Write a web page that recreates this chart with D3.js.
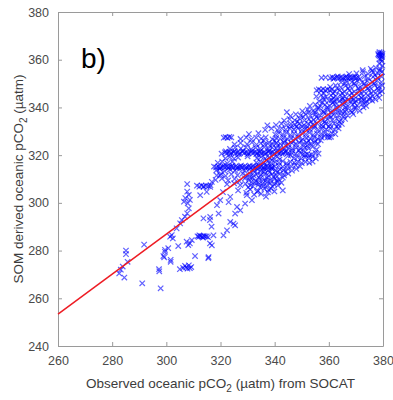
<!DOCTYPE html>
<html>
<head>
<meta charset="utf-8">
<script src="https://cdn.jsdelivr.net/npm/d3@7"></script>
<style>
  body { margin: 0; background: #fff; }
  text { font-family: "Liberation Sans", Arial, sans-serif; }
</style>
</head>
<body>
<div id="chart"></div>
<script>
// axis ticks
const xTicks = [260, 280, 300, 320, 340, 360, 380];
const yTicks = [240, 260, 280, 300, 320, 340, 360, 380];

// fitted line (end points)
const fitX = [260, 380];
const fitY = [253.4, 354];

// sparse points, lower left
const sparsePts = [
  [282.6,270.4],[283.2,272],[284.5,268.7],[285.1,280],[285.1,278.5],[285.7,275.3],[283.9,273.3],[291.8,282.5],
  [291.1,266.3],[297.3,272.2],[297.4,271.3],[297.9,264.2],[298.9,277.7],[299.5,279.5],[299.2,277.2],[300.7,281],
  [301.6,275.3],[301.6,276.1],[305,272.2],[306.2,272.7],[306.9,273.6],[307.3,273],[307.8,272.4],[308.3,273.8],
  [308.7,272.6],[309.2,273.1],[310.6,277.7],[315.5,276.8],[304.4,281.9],[307.5,283.7],[308.1,282.3],[308.7,283],
  [309.4,284.4],[302,286.5],[301.4,285.8],[302.4,285.1],[299.5,280.3],[303.8,289.3],[305.1,291.4],[305.7,292.8],
  [306.9,294.2],[307.7,295.6],[308.3,297.7],[307.9,299.8],[308.7,301.2],[308.3,303.3],[307.7,304.7],[307.7,307.9],
  [306.5,300.5],[307,302],
  [311.5,286],[312,285.7],[312.6,286.1],[313.2,285.8],[313.8,286.2],[314.3,285.9],[314.9,286],[315.4,285.6],
  [312.2,286.4],[313.5,285.4],[313.7,293.5],[316.1,292.8],[316.7,290],[316.1,283],[317.4,286.4],[316.8,282.2],
  [315.6,277.3],[321.1,286.4],[319.3,295.5],[316.2,294.1],[318.7,299],[319.9,301.1],[323,300.3],[323.6,292],
  [325.4,295.5],[322.4,288.5],[324.8,291.3],[327.3,296.9],[329.1,299.7],[331.6,301.1],[326.1,298.3],[323.6,302.5],
  [329.7,303.2],[325.4,290.6],[312.5,303.2],[313.7,306.7],[316.8,308.8],[314.9,304.6],[316.2,306.7],[319.9,311.6],
  [320.9,304.5],[326.5,305.2]
];

// dense cloud along the line, read row by row
const densePts = [
  [329.5,304.2],[331,305.6],[332.4,303.5],[333.8,305],[335,303.8],[336.2,305.9],[337.5,304.4],[338.6,306.1],[339.9,304.8],[334.6,306.6],[343,305.2],[336.8,302.6],
  [330.2,306.5],[332,306.9],[333.5,304.6],[335.8,307],[337.8,305.4],[339.2,306.8],[341.2,307.3],
  [311.3,307.2],[312.2,306.8],[313,307.3],[313.8,306.9],[314.6,307.2],[315.5,307],[316.3,307.4],[322.4,307.8],[325,308.2],[327.3,307.4],[329.2,308],[331,307.3],[332.6,308.4],[334,307.6],[335.5,308.1],[337,307.2],[338.4,308.3],[339.8,307.7],[341,308.6],
  [331.4,308.8],[333.9,308.5],[336.6,309.2],[337.5,308.9],[342.5,308.4],[340.8,309.4],
  [318.2,309.6],[320.5,310.2],[322.8,309.4],[325.2,310],[327,309.1],[329,310.3],[330.4,309.5],[331.8,310.4],[333.1,309.3],[334.5,310.1],[335.9,309.6],[337.2,310.5],[338.7,309.4],[340.1,310.2],[341.6,309.8],[343,310.6],
  [330.8,310.8],[334.2,310.7],[339.6,311],
  [318.6,311.5],[320.2,312.2],[321.9,311.3],[324,312],[326.3,311.6],[328.2,312.3],[329.6,311.2],[331,312],[332.3,311.4],[333.7,312.4],[335,311.7],[336.4,312.2],[337.8,311.3],[339.1,312.1],[340.5,311.6],[342,312.4],[343.5,311.5],[345,312.3],
  [332.6,312.9],[336,313],[338.1,312.8],[341,312.9],[344,313],
  [318.4,313.6],[319.8,314.2],[321.6,313.3],[323.5,314],[325.4,313.5],[327.1,314.3],[328.9,313.4],[330.6,314.1],[332,313.6],[333.4,314.4],[334.8,313.2],[336.2,314],[337.6,313.5],[339,314.3],[340.4,313.4],[341.9,314.1],[343.3,313.6],[344.8,314.4],[346.4,313.5],[348,314.2],
  [317.6,315.2],[318.4,314.9],[319.2,315.3],[320,314.8],[320.8,315.2],[321.6,314.9],[322.4,315.3],[323.2,315],[324,315.2],[324.8,314.8],[325.6,315.3],[326.4,315],[327.2,315.2],[328,314.9],[328.8,315.3],[329.6,315],[330.4,315.2],[331.2,314.8],[332,315.3],[332.8,315],[333.6,315.2],[334.4,314.9],[335.2,315.4],[336,315],[336.8,315.2],[337.6,314.9],[338.4,315.3],[339.2,315],[340,315.2],[341.5,315.6],[343,315.1],[344.6,315.7],[346.2,315.2],[347.8,315.8],[349.4,315.3],
  [319.6,314.5],[321.2,315.6],[322.8,314.6],[324.4,315.6],[326,314.6],[327.6,315.6],[329.2,314.6],[330.8,315.6],[332.4,314.6],[334,315.6],[335.6,314.6],[337.2,315.6],[338.8,314.6],
  [319,316.8],[320.6,317.3],[322.5,316.6],[324.4,317.2],[333.2,316.9],[334.6,317.4],[336,316.7],[337.4,317.3],[338.8,316.6],[340.2,317.1],[341.6,316.8],[343,317.5],[344.4,316.6],[345.8,317.2],[347.2,316.9],[348.6,317.4],[350,316.7],[351.4,317.2],[352.8,316.8],[354,317.3],
  [321.8,318.6],[323.4,319.2],[325,318.5],[333.5,318.8],[335,319.3],[336.5,318.5],[338,319.1],[339.5,318.7],[341,319.4],[347,318.6],[348.4,319.2],[349.8,318.5],[351.2,319.1],[352.6,318.7],[354,319.3],[355.2,318.6],
  [337,318],[339,317.9],[341.8,318.2],[326.5,319],[330,319.5],
  [320.4,320.6],[321.6,321.2],[322.4,320.8],[323.2,321.4],[324,320.9],[324.8,321.3],[325.6,320.7],[326.4,321.2],[327.2,320.8],[328,321.4],[328.8,320.9],[329.6,321.3],[330.4,320.7],[331.2,321.2],[332,320.8],[332.8,321.4],[333.6,320.9],[334.4,321.3],[335.2,320.7],[336,321.2],[336.8,320.8],[337.6,321.4],[338.4,320.9],[339.2,321.3],[340,320.7],[340.8,321.2],[341.6,320.8],[342.4,321.4],[343.2,320.9],[344,321.3],[344.8,320.7],[346.3,321],[347.8,320.5],[349.3,321.1],[350.4,320.3],[351.2,320.1],[352,320.4],[352.8,319.9],[353.6,320.3],[355,321],[356.2,320.6],
  [322,321.6],[323.6,320.4],[325.2,321.7],[326.8,320.4],[328.4,321.7],[330,320.4],[331.6,321.7],[333.2,320.4],[334.8,321.7],[336.4,320.4],[338,321.7],[339.6,320.4],[341.2,321.7],[342.8,320.4],[344.4,321.7],[345,319.8],[346,320],[334,320],
  [323.5,322.6],[325.4,323.2],[327.5,322.8],[329.4,323.3],[331.3,322.5],[333,323.1],[334.6,322.7],[336.1,323.4],[337.6,322.6],[339.1,323.2],[340.6,322.8],[342.1,323.4],[343.6,322.5],[345.1,323.1],[346.6,322.7],[348.1,323.3],[349.6,322.6],[351.1,323.2],[352.5,322.8],
  [346.5,322],[348.8,322],[350.8,321.9],[352,324],[354,323.5],[355.5,322.4],[338.2,324],[341,323.9],[344,324],
  [325.2,324.5],[327.4,325.1],[329.8,324.6],[331.6,325.3],[333.3,324.4],[334.9,325],[336.4,324.6],[337.9,325.3],[339.3,324.5],[340.7,325.1],[342.1,324.7],[343.5,325.4],[344.9,324.5],[346.3,325.1],[347.7,324.6],[349.1,325.3],[350.5,324.5],[351.9,325.2],[353.3,324.7],[354.7,325.3],[356,324.6],
  [347,325.8],[349.8,326],[352.5,326],[355,325.9],[357,326.2],[343.8,326],[340,326],[336,326],
  [321.2,327.3],[321.9,327.6],[322.6,327.2],[323.3,327.7],[324,327.4],[327.4,326.8],[329.5,327.4],[331.4,326.6],[333.2,327.3],[335,326.9],[336.7,327.5],[339.2,326.6],[340.6,327.2],[342,326.8],[343.4,327.4],[344.8,326.6],[346.2,327.2],[347.6,326.8],[349,327.5],[350.4,326.6],[351.8,327.2],[353.2,326.8],[354.6,327.4],[356,326.7],[357.4,327.3],[359.6,327.6],[360.2,327.4],[360.8,327.7],
  [330.5,328.8],[334,329.2],[337.3,332.5],[340.2,328.6],[341.6,329.3],[343,328.7],[344.4,329.4],[345.8,328.5],[347.2,329.1],[348.6,328.6],[350,329.3],[351.4,328.7],[352.8,329.4],[354.2,328.5],[355.6,329.1],[357,328.7],[358.4,329.3],[359.8,328.6],[361.2,329.2],[362.4,328.8],[358.4,328],
  [336.5,330.6],[338.8,331.2],[341,330.5],[342.6,331.3],[344.1,330.7],[345.6,331.2],[347.1,330.6],[348.6,331.3],[350.1,330.5],[351.6,331.1],[353.1,330.7],[354.6,331.4],[356.1,330.6],[357.6,331.2],[359.1,330.8],[360.6,331.3],[362.1,330.6],[363.6,331.2],
  [346,332],[348,332],[350,332],[352,331.8],[354.8,332.2],[357.8,332],[360,332],[362.8,332],
  [340.5,332.6],[342.5,333.2],[344.3,332.5],[346,333.1],[347.6,332.7],[349.2,333.3],[350.8,332.6],[352.4,333.2],[354,332.8],[355.6,333.4],[357.2,332.6],[358.8,333.2],[360.4,332.7],[362,333.3],[363.6,332.6],[364.8,333.1],
  [348.4,334],[353.4,334],[358.6,334],[363.8,334],
  [343.5,334.5],[345.5,335.1],[347.4,334.6],[349.2,335.3],[351,334.5],[352.7,335.1],[354.4,334.7],[356.1,335.4],[357.8,334.5],[359.5,335.1],[361.2,334.7],[362.9,335.3],[364.5,334.6],[366,335.2],
  [350.6,336],[355.4,336],[360.8,336],[365.4,336.2],
  [345.8,336.4],[347.8,337.1],[349.6,336.6],[351.4,337.2],[353.2,336.5],[355,337.1],[356.8,336.7],[358.5,337.3],[360.2,336.5],[361.9,337.1],[363.6,336.7],[365.3,337.3],[367,336.6],[369,337.2],
  [352.6,338],[355,338],[358.2,338],[360.8,338],[363.4,338],[366,338.2],[368.6,338],
  [344.5,338],[350.2,338.5],[352.2,339.1],[354.2,338.6],[356,339.3],[357.8,338.5],[359.5,339.1],[361.2,338.6],[362.9,339.2],[364.6,338.5],[366.3,339.1],[368,338.7],[369.7,339.3],[371.4,338.6],
  [356,340],[359.4,340],[362.8,340],[366.2,340],[369.6,340],[372.8,340],
  [353,340.6],[355,341.2],[356.9,340.5],[358.6,341.1],[360.3,340.7],[362,341.3],[363.7,340.5],[365.4,341.1],[367.1,340.6],[368.8,341.2],[370.5,340.7],[372.2,341.3],[373.8,340.6],
  [357.6,342],[361.5,342],[365.5,342],[369.5,342],[373.5,342],
  [356.4,342.6],[358.2,343.2],[360,342.8],[361,343.1],[362,342.6],[363,343.2],[364,342.7],[365,343.3],[366,342.8],[367,343.1],[368,342.6],[369,343.2],[370,342.7],[371,343.3],[372,342.8],[373,343.1],[374,342.6],[375,343.2],[376,342.8],[377.2,343.4],
  [358,344],[361.6,344],[365,344],[368.5,344],[372,344],[375.2,344],[378.6,344],
  [355.4,344.6],[357.2,345.2],[359,344.5],[360.8,345.1],[362.5,344.7],[364.2,345.3],[365.9,344.6],[367.6,345.2],[369.3,344.7],[371,345.3],[372.7,344.6],[374.4,345.2],[376.1,344.7],[377.8,345.3],
  [358.2,346],[361.6,346],[365,346],[368.5,346],[372,346],[375.6,346],[378.8,346],
  [355.5,347.2],[356.3,347.6],[357.1,347.1],[357.9,347.7],[358.7,347.2],[359.5,347.6],[360.3,347.1],[361.1,347.5],[362.3,346.6],[364,347.2],[365.8,346.5],[367.6,347.1],[369.4,346.6],[371.2,347.3],[373,346.6],[374.8,347.2],[376.6,346.7],[378.4,347.3],[379.6,346.8],
  [363,348],[367,348],[371,348],[374.5,348],[378,348],
  [360.5,348.6],[362.5,349.2],[364.4,348.5],[366.2,349.1],[368,348.7],[369.8,349.3],[371.6,348.5],[373.4,349.1],[375.2,348.6],[377,349.3],[378.6,348.7],[379.7,349.2],
  [366,350],[369.5,350],[373.2,350],[376.8,350],
  [364.5,350.5],[366.5,351.1],[368.5,350.6],[370.4,351.2],[372.3,350.5],[374.2,351.1],[376,350.7],[377.8,351.3],[379.4,350.6],
  [357.3,352.4],[358.8,352.6],[360.5,352.3],[361.3,352.7],[362.1,352.4],[362.9,352.6],[363.7,352.3],[364.5,352.7],[365.3,352.4],[366.1,352.6],[366.9,352.3],[367.7,352.7],[368.5,352.4],[369.3,352.6],[370.1,352.3],[370.9,352.6],[374.5,352.2],[376.3,352.8],[378,352.4],[379.5,352.9],
  [361.7,352],[363.3,353],[364.9,352],[366.5,353],[368.1,352],[369.7,353],[371.5,352],[373.2,353],[377,353.5],
  [370.2,354.3],[372.6,354.8],[374.5,354.1],[376.4,354.7],[378.2,354.2],[379.6,354.9],[375.5,356.2],[377.4,356.6],[379,356.1],[379.8,357.5],[372.5,355.6],[367.5,354],[378.8,355.5],[376,355.4],
  [378.6,358.4],[379.5,359.3],[378.8,360.4],[379.6,361.2],[378.4,361.8],[379.1,362.1],[379.8,362.4],[378.6,362.7],[379.4,363],[378.9,361.5],
  [378.2,362.3],[379.7,361.7],[378.7,363.2],[379.3,360.1]
];

const points = sparsePts.concat(densePts);

const W = 393, H = 400;
const margin = { top: 12, right: 10, bottom: 54, left: 58 };
const width = W - margin.left - margin.right;
const height = H - margin.top - margin.bottom;

const svg = d3.select("#chart").append("svg")
  .attr("width", W)
  .attr("height", H);

const g = svg.append("g")
  .attr("transform", `translate(${margin.left},${margin.top})`);

const x = d3.scaleLinear().domain([260, 380]).range([0, width]);
const y = d3.scaleLinear().domain([240, 380]).range([height, 0]);

const axisColor = "#9a9a9a";
const labelColor = "#4a4a4a";

// axes with inward ticks on all four sides (matlab box)
const xAxis = g.append("g")
  .attr("transform", `translate(0,${height})`)
  .call(d3.axisBottom(x).tickValues(xTicks).tickSize(-4).tickPadding(10).tickSizeOuter(0));
const xTop = g.append("g")
  .call(d3.axisTop(x).tickValues(xTicks).tickSize(-4).tickFormat("").tickSizeOuter(0));
const yAxis = g.append("g")
  .call(d3.axisLeft(y).tickValues(yTicks).tickSize(-4).tickPadding(9).tickSizeOuter(0));
const yRight = g.append("g")
  .attr("transform", `translate(${width},0)`)
  .call(d3.axisRight(y).tickValues(yTicks).tickSize(-4).tickFormat("").tickSizeOuter(0));

[xAxis, xTop, yAxis, yRight].forEach(a => {
  a.selectAll("line").attr("stroke", axisColor);
  a.select(".domain").attr("stroke", axisColor);
  a.selectAll("text")
    .attr("fill", labelColor)
    .attr("font-size", 12.5)
    .attr("font-family", "'Liberation Sans', Arial, sans-serif");
});

// scatter 'x' markers
const s = 2.7;
g.append("g")
  .selectAll("path")
  .data(points)
  .join("path")
  .attr("d", d => {
    const px = x(d[0]), py = y(d[1]);
    return `M${px - s},${py - s}L${px + s},${py + s}M${px - s},${py + s}L${px + s},${py - s}`;
  })
  .attr("stroke", "#0000ff")
  .attr("stroke-opacity", 0.62)
  .attr("stroke-width", 1.2)
  .attr("fill", "none");

// fitted line
g.append("line")
  .attr("x1", x(fitX[0])).attr("y1", y(fitY[0]))
  .attr("x2", x(fitX[1])).attr("y2", y(fitY[1]))
  .attr("stroke", "#ee1c24")
  .attr("stroke-width", 1.5);

// panel label
svg.append("text")
  .attr("x", 81)
  .attr("y", 68)
  .attr("font-family", "Lato, 'Open Sans', sans-serif")
  .attr("font-size", 28)
  .attr("fill", "#000")
  .text("b)");

// axis titles
const xt = svg.append("text")
  .attr("x", margin.left + width / 2)
  .attr("y", 388)
  .attr("text-anchor", "middle")
  .attr("font-size", 13.5)
  .attr("fill", "#3c3c3c");
xt.append("tspan").text("Observed oceanic pCO");
xt.append("tspan").attr("dy", 4).attr("font-size", 10).text("2");
xt.append("tspan").attr("dy", -4).text(" (µatm) from SOCAT");

const yt = svg.append("text")
  .attr("transform", `translate(23,${margin.top + height / 2}) rotate(-90)`)
  .attr("text-anchor", "middle")
  .attr("font-size", 13.5)
  .attr("fill", "#3c3c3c");
yt.append("tspan").text("SOM derived oceanic pCO");
yt.append("tspan").attr("dy", 4).attr("font-size", 10).text("2");
yt.append("tspan").attr("dy", -4).text(" (µatm)");
</script>
</body>
</html>
